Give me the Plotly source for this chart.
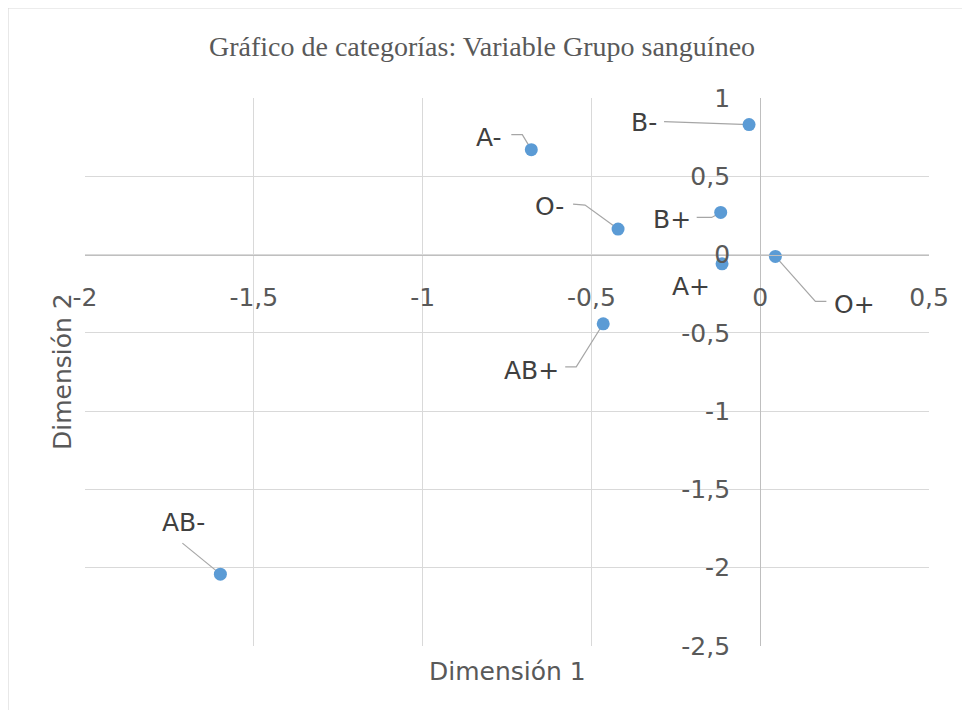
import plotly.graph_objects as go

# Data
categories = ["A-", "B-", "O-", "B+", "A+", "O+", "AB+", "AB-"]
dim1 = [-0.678, -0.033, -0.421, -0.117, -0.113, 0.045, -0.465, -1.599]
dim2 = [0.670, 0.830, 0.163, 0.269, -0.059, -0.012, -0.442, -2.041]

x_ticks = [-2, -1.5, -1, -0.5, 0, 0.5]
x_tick_text = ["-2", "-1,5", "-1", "-0,5", "0", "0,5"]
y_ticks = [1, 0.5, 0, -0.5, -1, -1.5, -2, -2.5]
y_tick_text = ["1", "0,5", "0", "-0,5", "-1", "-1,5", "-2", "-2,5"]

title_text = "Gráfico de categorías: Variable Grupo sanguíneo"
x_title = "Dimensión 1"
y_title = "Dimensión 2"

# label placement (pixel offsets: text centre, leader path) -- styling only
label_offsets = {
    "A-": (-42, 12, [(-9, 15), (-20, 15)]),
    "B-": (-105, 2, [(-85, 3)]),
    "O-": (-69, 23, [(-33, 24), (-45, 25)]),
    "B+": (-49, -7, [(-9, -5), (-24, -5)]),
    "A+": (-31, -23, []),
    "O+": (79, -48, [(40, -45), (51, -45)]),
    "AB+": (-72, -47, [(-27, -43), (-38, -43)]),
    "AB-": (-37, 52, [(-38, 31)]),
}

# page has an 8px body margin; figure sized/margined to compensate
OFF = 8
W, H = 962, 702
ml, mt = 85 - OFF, 98 - OFF
mr = W - (929 - OFF)
mb = H - (646 - OFF)
FONT = "DejaVu Sans"
GRAY = "#595959"
fs = 25

fig = go.Figure()
fig.add_trace(go.Scatter(
    x=dim1, y=dim2, mode="markers",
    marker=dict(size=13, color="#5b9bd5"),
    hoverinfo="text", text=categories, showlegend=False,
))

shapes = []
annotations = []
for cat, xv, yv in zip(categories, dim1, dim2):
    dx, dy, pts = label_offsets[cat]
    annotations.append(dict(
        x=xv, y=yv, xref="x", yref="y", text=cat, showarrow=False,
        xshift=dx, yshift=dy, font=dict(family=FONT, size=fs, color="#404040"),
    ))
    if pts:
        path = "M0,0 " + " ".join(f"L{px},{py}" for px, py in pts)
        shapes.append(dict(
            type="path", path=path, xref="x", yref="y",
            xsizemode="pixel", ysizemode="pixel", xanchor=xv, yanchor=yv,
            line=dict(color="#a6a6a6", width=1.2), layer="between",
        ))

# outer chart border
pw, ph = W - ml - mr, H - mt - mb
shapes.append(dict(
    type="rect", xref="paper", yref="paper",
    x0=(8 - 85) / pw, x1=1.2, y0=-0.3, y1=1 + (98 - 8) / ph,
    line=dict(color="#d9d9d9", width=1.2), fillcolor="rgba(0,0,0,0)", layer="below",
))

annotations.append(dict(
    x=(482 - 85) / pw, y=1 + (98 - 46) / ph, xref="paper", yref="paper", text=title_text,
    showarrow=False, font=dict(family="Liberation Serif", size=28, color=GRAY),
    yanchor="middle",
))
annotations.append(dict(
    x=0.5, y=-(672 - 646) / ph, xref="paper", yref="paper", text=x_title,
    showarrow=False, font=dict(family=FONT, size=fs, color=GRAY), yanchor="middle",
))
annotations.append(dict(
    x=-(85 - 62) / pw, y=0.5, xref="paper", yref="paper", text=y_title,
    showarrow=False, textangle=-90, font=dict(family=FONT, size=fs, color=GRAY),
    xanchor="center",
))

xr = [-2, 0.5]
yr = [-2.5, 1]

fig.update_layout(
    width=W, height=H,
    margin=dict(l=ml, r=mr, t=mt, b=mb, pad=0),
    paper_bgcolor="white", plot_bgcolor="white",
    shapes=shapes, annotations=annotations,
    xaxis=dict(
        range=xr, tickvals=x_ticks, ticktext=x_tick_text,
        showgrid=True, gridcolor="#d9d9d9", gridwidth=1,
        zeroline=False, showline=True, linecolor="#bfbfbf", linewidth=1.3,
        anchor="free", position=(0 - yr[0]) / (yr[1] - yr[0]),
        ticks="", ticklabelstandoff=20,
        tickfont=dict(family=FONT, size=fs, color=GRAY),
    ),
    yaxis=dict(
        range=yr, tickvals=y_ticks, ticktext=y_tick_text,
        showgrid=True, gridcolor="#d9d9d9", gridwidth=1,
        zeroline=False, showline=True, linecolor="#bfbfbf", linewidth=1.3,
        anchor="free", position=(0 - xr[0]) / (xr[1] - xr[0]),
        ticks="", ticklabelstandoff=25,
        tickfont=dict(family=FONT, size=fs, color=GRAY),
    ),
)

fig.write_html("out.html")
